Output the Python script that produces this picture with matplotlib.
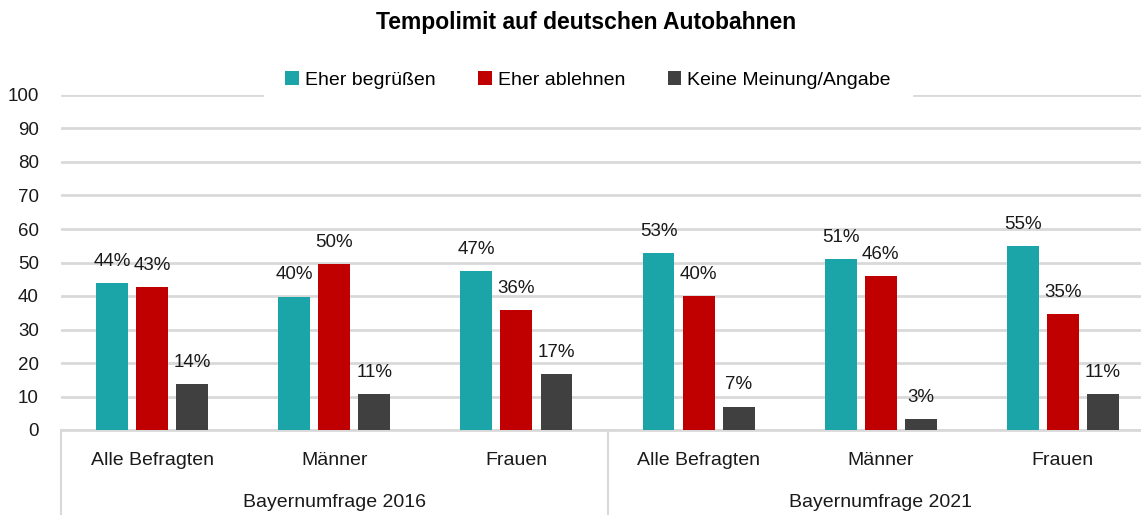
import matplotlib.pyplot as plt
import numpy as np

plt.rcParams['font.family'] = ['Liberation Sans Narrow', 'Liberation Sans', 'DejaVu Sans']

# Daten
kategorien = ['Alle Befragten', 'Männer', 'Frauen', 'Alle Befragten', 'Männer', 'Frauen']
gruppen = ['Bayernumfrage 2016', 'Bayernumfrage 2021']
serien = ['Eher begrüßen', 'Eher ablehnen', 'Keine Meinung/Angabe']
begruessen = [43.8, 39.8, 47.5, 52.8, 51.0, 55.0]
ablehnen = [42.7, 49.6, 35.8, 40.0, 46.0, 34.5]
keine = [13.6, 10.6, 16.7, 7.0, 3.3, 10.6]
labels_begruessen = ['44%', '40%', '47%', '53%', '51%', '55%']
labels_ablehnen = ['43%', '50%', '36%', '40%', '46%', '35%']
labels_keine = ['14%', '11%', '17%', '7%', '3%', '11%']
farben = ['#1BA5A8', '#C00000', '#404040']

fig = plt.figure(figsize=(11.41, 5.15), dpi=100)
ax = fig.add_axes([61 / 1141, 85 / 515, 1093 / 1141, 335 / 515])

x = np.arange(len(kategorien))
breite = 0.175
abstand = 0.22
werte = [begruessen, ablehnen, keine]
texte = [labels_begruessen, labels_ablehnen, labels_keine]
for i, (w, t, f, name) in enumerate(zip(werte, texte, farben, serien)):
    bars = ax.bar(x + (i - 1) * abstand, w, breite, color=f, label=name, zorder=3)
    for b, lab in zip(bars, t):
        ax.annotate(lab, (b.get_x() + b.get_width() / 2, b.get_height()),
                    xytext=(0, 9.5), textcoords='offset points',
                    ha='center', va='bottom', fontsize=13.5, color='#1a1a1a')

ax.set_xlim(-0.5, 5.5)
ax.set_ylim(0, 100)
ax.set_yticks(range(0, 101, 10))
ax.tick_params(axis='y', length=0, pad=16, labelsize=13.5, labelcolor='#1a1a1a')
ax.set_xticks([])
ax.grid(axis='y', color='#D9D9D9', linewidth=2, zorder=0)
for s in ['top', 'right', 'left']:
    ax.spines[s].set_visible(False)
ax.spines['bottom'].set_color('#D9D9D9')
ax.spines['bottom'].set_linewidth(2)

# Achsenbeschriftungen (zweistufig)
trans = ax.get_xaxis_transform()
for xi, k in zip(x, kategorien):
    ax.text(xi, -0.09, k, transform=trans, ha='center', va='center', fontsize=14, color='#1a1a1a')
for gi, g in enumerate(gruppen):
    ax.text(gi * 3 + 1, -0.215, g, transform=trans, ha='center', va='center', fontsize=14, color='#1a1a1a')
for xs in [-0.5, 2.5, 5.5]:
    ax.plot([xs, xs], [0, -0.3], transform=trans, color='#D9D9D9', linewidth=1.5, clip_on=False)

fig.suptitle('Tempolimit auf deutschen Autobahnen', x=586 / 1141, y=1 - 22 / 515,
             fontsize=16.5, fontweight='bold', va='center')

leg = ax.legend(loc='center', bbox_to_anchor=(588 / 1141, 1 - 80 / 515), bbox_transform=fig.transFigure,
                ncol=3, frameon=True, fontsize=14, handlelength=0.7, handleheight=0.7,
                handletextpad=0.3, columnspacing=2.2, borderpad=0.5, borderaxespad=0)
leg.get_frame().set_facecolor('white')
leg.get_frame().set_edgecolor('white')
leg.get_frame().set_alpha(1)
leg.get_frame().set_boxstyle('square', pad=0.6)
leg.set_zorder(5)

fig.savefig('out.png', dpi=100)
